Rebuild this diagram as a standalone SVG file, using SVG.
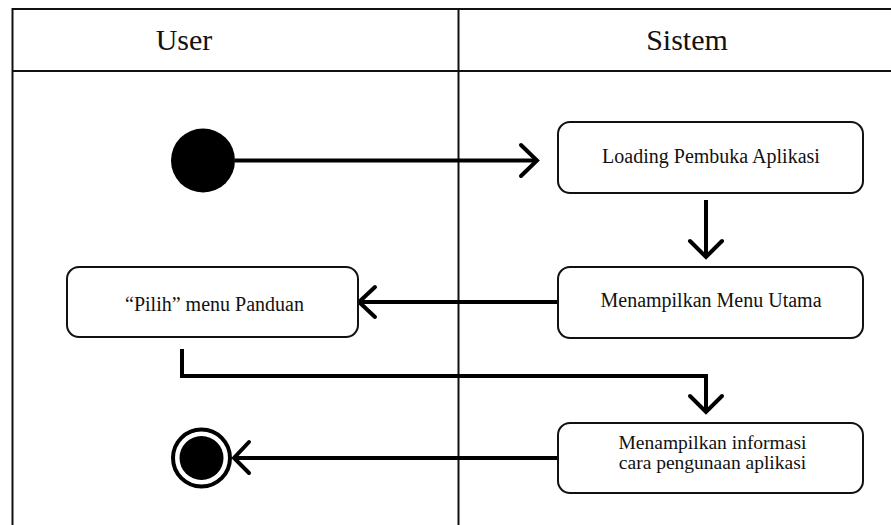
<svg xmlns="http://www.w3.org/2000/svg" width="891" height="525" viewBox="0 0 891 525">
<style>
.frame{stroke:#111;stroke-width:2;fill:none}
.box{fill:#fff;stroke:#111;stroke-width:2}
.lbl{font-family:"Liberation Serif","Times New Roman",serif;font-size:20px;fill:#111;text-anchor:middle}
.sm{font-size:19.5px}
.hdr{font-family:"Liberation Serif","Times New Roman",serif;font-size:30px;fill:#111;text-anchor:middle}
.conn{stroke:#000;stroke-width:4;fill:none}
.head{stroke:#000;stroke-width:4;fill:none;stroke-linecap:round;stroke-linejoin:miter}
</style>
<rect width="891" height="525" fill="#fff"/>
<g id="swimlanes">
<path class="frame" d="M12.5 525 V9 H891 M12.5 71 H891 M458.5 9 V525"/>
<text class="hdr" x="184" y="50">User</text>
<text class="hdr" x="687" y="50">Sistem</text>
</g>
<g id="connectors">
<path class="conn" d="M235 160.5 H536"/>
<path class="head" d="M521 145 L537 160.5 L521 176"/>
<path class="conn" d="M706 200 V256"/>
<path class="head" d="M690 241 L706 257 L722 241"/>
<path class="conn" d="M558 302 H361"/>
<path class="head" d="M375 287 L359 302 L375 317"/>
<path class="conn" d="M182 349 V376 H706 V411"/>
<path class="head" d="M690 396 L706 412 L722 396"/>
<path class="conn" d="M558 458 H236"/>
<path class="head" d="M249 442 L234 458 L249 473"/>
</g>
<g id="start">
<circle cx="203" cy="160.5" r="32" fill="#000"/>
</g>
<g id="loading">
<rect class="box" x="558" y="122" width="305" height="71" rx="12"/>
<text class="lbl" x="711" y="163">Loading Pembuka Aplikasi</text>
</g>
<g id="menu-utama">
<rect class="box" x="558" y="267" width="305" height="71" rx="12"/>
<text class="lbl" x="711" y="307">Menampilkan Menu Utama</text>
</g>
<g id="pilih">
<rect class="box" x="67" y="267" width="291" height="70" rx="12"/>
<text class="lbl" x="214.5" y="311">“Pilih” menu Panduan</text>
</g>
<g id="informasi">
<rect class="box" x="558" y="423" width="305" height="70" rx="12"/>
<text class="lbl sm" x="712.5" y="449">Menampilkan informasi</text>
<text class="lbl sm" x="712.5" y="468.5">cara pengunaan aplikasi</text>
</g>
<g id="end">
<circle cx="201.5" cy="458" r="28.5" fill="#fff" stroke="#000" stroke-width="4"/>
<circle cx="201.5" cy="458" r="22" fill="#000"/>
</g>
</svg>
